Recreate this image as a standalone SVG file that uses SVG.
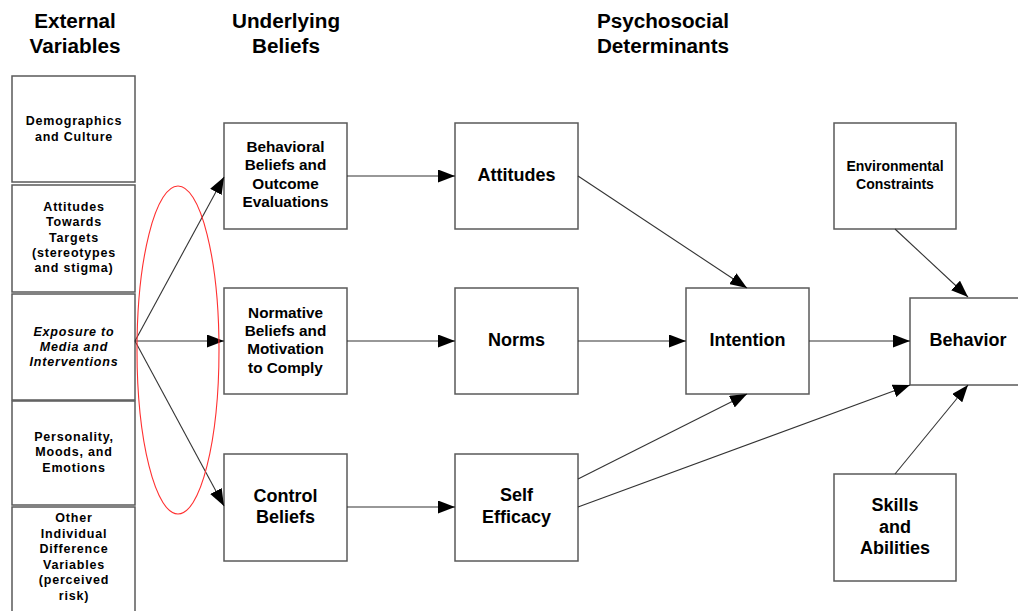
<svg xmlns="http://www.w3.org/2000/svg" width="1018" height="611" viewBox="0 0 1018 611">
<defs>
<style>
.box{fill:#fff;stroke:#5a5a5a;stroke-width:1.5}
.hd{font-family:"Liberation Sans",Arial,sans-serif;font-weight:bold;font-size:20.7px;fill:#000;text-anchor:middle}
.sm{font-family:"Liberation Sans",Arial,sans-serif;font-weight:bold;font-size:12.5px;letter-spacing:0.8px;fill:#000;text-anchor:middle}
.md{font-family:"Liberation Sans",Arial,sans-serif;font-weight:bold;font-size:15.3px;fill:#000;text-anchor:middle}
.lg{font-family:"Liberation Sans",Arial,sans-serif;font-weight:bold;font-size:18px;fill:#000;text-anchor:middle}
.env{font-family:"Liberation Sans",Arial,sans-serif;font-weight:bold;font-size:14px;fill:#000;text-anchor:middle}
.conn{stroke:#333;stroke-width:1.1;fill:none;marker-end:url(#ah)}
</style>
<marker id="ah" viewBox="0 0 17 13" refX="17" refY="6.5" markerWidth="17" markerHeight="13" markerUnits="userSpaceOnUse" orient="auto">
<path d="M0,0 L17,6.5 L0,13 Z" fill="#000"/>
</marker>
</defs>
<rect width="1018" height="611" fill="#fff"/>

<g id="headers">
<text class="hd" x="75" y="28">External</text>
<text class="hd" x="75" y="53">Variables</text>
<text class="hd" x="286" y="28">Underlying</text>
<text class="hd" x="286" y="53">Beliefs</text>
<text class="hd" x="663" y="28">Psychosocial</text>
<text class="hd" x="663" y="53">Determinants</text>
</g>

<g id="demographics">
<rect class="box" x="12" y="76" width="123" height="106"/>
<text class="sm" x="74" y="125">Demographics</text>
<text class="sm" x="74" y="141">and Culture</text>
</g>
<g id="attitudes-targets">
<rect class="box" x="12" y="185" width="123" height="107"/>
<text class="sm" x="74" y="211">Attitudes</text>
<text class="sm" x="74" y="226">Towards</text>
<text class="sm" x="74" y="242">Targets</text>
<text class="sm" x="74" y="257">(stereotypes</text>
<text class="sm" x="74" y="272">and stigma)</text>
</g>
<g id="exposure">
<rect class="box" x="12" y="294" width="123" height="106"/>
<text class="sm" x="74" y="336" font-style="italic">Exposure to</text>
<text class="sm" x="74" y="351" font-style="italic">Media and</text>
<text class="sm" x="74" y="366" font-style="italic">Interventions</text>
</g>
<g id="personality">
<rect class="box" x="12" y="401" width="123" height="104"/>
<text class="sm" x="74" y="441">Personality,</text>
<text class="sm" x="74" y="456">Moods, and</text>
<text class="sm" x="74" y="472">Emotions</text>
</g>
<g id="other">
<rect class="box" x="12" y="507" width="123" height="110"/>
<text class="sm" x="74" y="522">Other</text>
<text class="sm" x="74" y="538">Individual</text>
<text class="sm" x="74" y="553">Difference</text>
<text class="sm" x="74" y="569">Variables</text>
<text class="sm" x="74" y="584">(perceived</text>
<text class="sm" x="74" y="600">risk)</text>
</g>

<g id="behavioral-beliefs">
<rect class="box" x="224" y="123" width="123" height="106"/>
<text class="md" x="285.5" y="152">Behavioral</text>
<text class="md" x="285.5" y="170">Beliefs and</text>
<text class="md" x="285.5" y="189">Outcome</text>
<text class="md" x="285.5" y="207">Evaluations</text>
</g>
<g id="normative-beliefs">
<rect class="box" x="224" y="288" width="123" height="106"/>
<text class="md" x="285.5" y="318">Normative</text>
<text class="md" x="285.5" y="336">Beliefs and</text>
<text class="md" x="285.5" y="354">Motivation</text>
<text class="md" x="285.5" y="373">to Comply</text>
</g>
<g id="control-beliefs">
<rect class="box" x="224" y="454" width="123" height="107"/>
<text class="lg" x="285.5" y="502">Control</text>
<text class="lg" x="285.5" y="523">Beliefs</text>
</g>

<g id="attitudes">
<rect class="box" x="455" y="123" width="123" height="106"/>
<text class="lg" x="516.5" y="181">Attitudes</text>
</g>
<g id="norms">
<rect class="box" x="455" y="288" width="123" height="106"/>
<text class="lg" x="516.5" y="346">Norms</text>
</g>
<g id="self-efficacy">
<rect class="box" x="455" y="454" width="123" height="107"/>
<text class="lg" x="516.5" y="501">Self</text>
<text class="lg" x="516.5" y="523">Efficacy</text>
</g>
<g id="intention">
<rect class="box" x="686" y="288" width="123" height="106"/>
<text class="lg" x="747.5" y="346">Intention</text>
</g>
<g id="environmental">
<rect class="box" x="834" y="123" width="122" height="106"/>
<text class="env" x="895" y="171">Environmental</text>
<text class="env" x="895" y="189">Constraints</text>
</g>
<g id="behavior">
<rect class="box" x="910" y="298" width="120" height="87"/>
<text class="lg" x="968" y="346">Behavior</text>
</g>
<g id="skills">
<rect class="box" x="834" y="474" width="122" height="107"/>
<text class="lg" x="895" y="511">Skills</text>
<text class="lg" x="895" y="533">and</text>
<text class="lg" x="895" y="554">Abilities</text>
</g>

<g id="connectors">
<path class="conn" d="M135,341 L224,177"/>
<path class="conn" d="M135,341 L224,341"/>
<path class="conn" d="M135,341 L224,506"/>
<path class="conn" d="M347,176 L455,176"/>
<path class="conn" d="M347,341 L455,341"/>
<path class="conn" d="M347,507 L455,507"/>
<path class="conn" d="M578,176 L747,288"/>
<path class="conn" d="M578,341 L686,341"/>
<path class="conn" d="M578,479 L747,394"/>
<path class="conn" d="M578,507 L910,385"/>
<path class="conn" d="M809,341 L910,341"/>
<path class="conn" d="M895,229 L968,297"/>
<path class="conn" d="M895,474 L968,385"/>
</g>

<g id="highlight">
<ellipse cx="178" cy="350" rx="41" ry="164" fill="none" stroke="#ff3030" stroke-width="1.1"/>
</g>
</svg>
